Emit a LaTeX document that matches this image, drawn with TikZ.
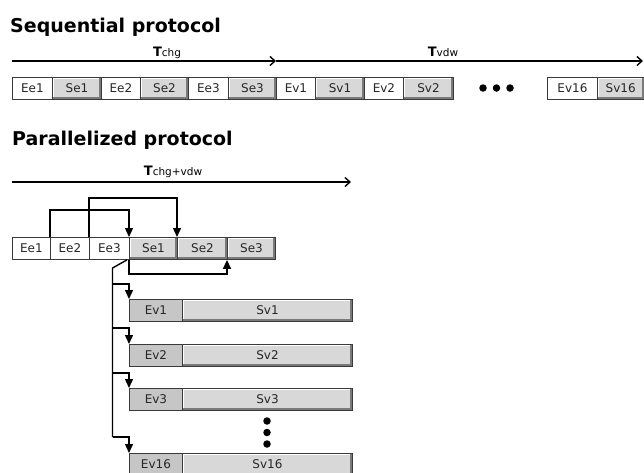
\documentclass[tikz,border=0pt]{standalone}
\usepackage{fontspec}
\setmainfont{DejaVu Sans}
\usetikzlibrary{arrows.meta}
\definecolor{sgray}{HTML}{D8D8D8}
\definecolor{egray}{HTML}{C6C6C6}
\definecolor{bord}{HTML}{3A3A3A}
\definecolor{bevdark}{HTML}{7A7A7A}
\begin{document}
\begin{tikzpicture}[x=1pt,y=-1pt,
  cell/.style={draw=bord, line width=0.9pt, anchor=north west, minimum height=22pt,
    inner sep=0pt, font=\fontsize{12}{14}\selectfont, text=black!85},
  ecell/.style={cell, fill=white},
  gcell/.style={cell, fill=egray},
  scell/.style={cell, fill=sgray},
  hilite/.style={draw=white, line width=1pt},
  lowlite/.style={draw=bevdark, line width=2pt},
  title/.style={anchor=base west, inner sep=0pt, font=\bfseries\fontsize{19}{22}\selectfont},
  tlabel/.style={anchor=base, inner sep=0pt},
  tarrow/.style={line width=1.6pt, -{Straight Barb[length=5pt,width=9pt,line width=1.4pt]}},
  conn/.style={line width=1.4pt, -{Triangle[length=9pt,width=8pt]}},
  line/.style={line width=1.4pt},
  dot/.style={circle, fill=black, inner sep=0pt, minimum size=7.5pt}
]
\useasboundingbox (0,0) rectangle (644,472);
\clip (0,0) rectangle (644,472);
\fill[white] (0,0) rectangle (644,472);

\newcommand{\Tl}[1]{{\bfseries\fontsize{13}{15}\selectfont T}{\fontsize{10.5}{12}\selectfont #1}}

% ---------- Sequential ----------
\node[title] (seqtitle) at (10,32) {Sequential protocol};

\coordinate (a0) at (12,61);
\coordinate (a1) at (276,61);
\coordinate (a2) at (643,61);
\draw[tarrow] (a0) -- (a1);
\draw[tarrow] (a1) -- (a2);
\node[tlabel] (tchg) at (167,56) {\Tl{chg}};
\node[tlabel] (tvdw) at (443,56) {\Tl{vdw}};

\node[ecell, minimum width=40pt] (qee1) at (12,77) {Ee1};
\node[scell, minimum width=49pt] (qse1) at (52,77) {};
\node[ecell, minimum width=39pt] (qee2) at (101,77) {Ee2};
\node[scell, minimum width=48pt] (qse2) at (140,77) {};
\node[ecell, minimum width=40pt] (qee3) at (188,77) {Ee3};
\node[scell, minimum width=48pt] (qse3) at (228,77) {};
\node[ecell, minimum width=39pt] (qev1) at (276,77) {Ev1};
\node[scell, minimum width=49pt] (qsv1) at (315,77) {};
\node[ecell, minimum width=39pt] (qev2) at (364,77) {Ev2};
\node[scell, minimum width=50pt] (qsv2) at (403,77) {};
\node[dot] (qd1) at (483,88) {};
\node[dot] (qd2) at (496.5,88) {};
\node[dot] (qd3) at (510,88) {};
\node[ecell, minimum width=50pt] (qev16) at (547,77) {Ev16};
\node[scell, minimum width=46.5pt] (qsv16) at (597,77) {};

% ---------- Parallelized ----------
\node[title] (partitle) at (12,145) {Parallelized protocol};

\coordinate (b0) at (12,182);
\coordinate (b1) at (351,182);
\draw[tarrow] (b0) -- (b1);
\node[tlabel] (tall) at (173,175) {\Tl{chg+vdw}};

\node[ecell, minimum width=38pt] (pee1) at (12,237) {Ee1};
\node[ecell, minimum width=39pt] (pee2) at (50,237) {Ee2};
\node[ecell, minimum width=40pt] (pee3) at (89,237) {Ee3};
\node[scell, minimum width=48pt] (pse1) at (129,237) {};
\node[scell, minimum width=50pt] (pse2) at (177,237) {};
\node[scell, minimum width=48pt] (pse3) at (227,237) {};

% evaluation rows
\node[gcell, minimum width=53pt] (ev1) at (129,299) {Ev1};
\node[scell, minimum width=170pt] (sv1) at (182,299) {};
\node[gcell, minimum width=53pt] (ev2) at (129,344) {Ev2};
\node[scell, minimum width=170pt] (sv2) at (182,344) {};
\node[gcell, minimum width=53pt] (ev3) at (129,388) {Ev3};
\node[scell, minimum width=170pt] (sv3) at (182,388) {};
\node[dot] (vd1) at (267,421) {};
\node[dot] (vd2) at (267,432.5) {};
\node[dot] (vd3) at (267,444) {};
\node[gcell, minimum width=53pt] (ev16) at (129,453) {Ev16};
\node[scell, minimum width=170pt] (sv16) at (182,453) {};

% bevels of the gray buttons, then their labels on top
\foreach \n/\t in {qse1/Se1,qse2/Se2,qse3/Se3,qsv1/Sv1,qsv2/Sv2,qsv16/Sv16,
                   pse1/Se1,pse2/Se2,pse3/Se3,sv1/Sv1,sv2/Sv2,sv3/Sv3,sv16/Sv16}{
  \draw[hilite] ([shift={(1.2pt,2.4pt)}]\n.south west) -- ([shift={(1.2pt,-1.2pt)}]\n.north west)
     -- ([shift={(-2.4pt,-1.2pt)}]\n.north east);
  \draw[lowlite] ([shift={(1.2pt,1.5pt)}]\n.south west) -- ([shift={(-1.5pt,1.5pt)}]\n.south east)
     -- ([shift={(-1.5pt,-1.2pt)}]\n.north east);
  \node[font=\fontsize{12}{14}\selectfont, text=black!85, inner sep=0pt] (\n-lab) at (\n.center) {\t};
}

% connectors
\draw[conn] (pee2.north west) -- ++(0,-27) -| (pse1.north west);
\draw[conn] (pee3.north west) -- ++(0,-39) -| (pse2.north west);
\draw[conn] (pse1.south west) -- ++(0,14) -| (pse3.south west);

\coordinate (trtop) at (112.5,268);
\coordinate (br1) at (112.5,284);
\coordinate (br2) at (112.5,328);
\coordinate (br3) at (112.5,373);
\coordinate (br16) at (112.5,437);
\draw[line, line join=round] ([xshift=-2pt]pse1.south west) -- (trtop) -- (br16);
\draw[conn] (br1) -| (ev1.north west);
\draw[conn] (br2) -| (ev2.north west);
\draw[conn] (br3) -| (ev3.north west);
\draw[conn] (br16) -| (ev16.north west);
\end{tikzpicture}
\end{document}
